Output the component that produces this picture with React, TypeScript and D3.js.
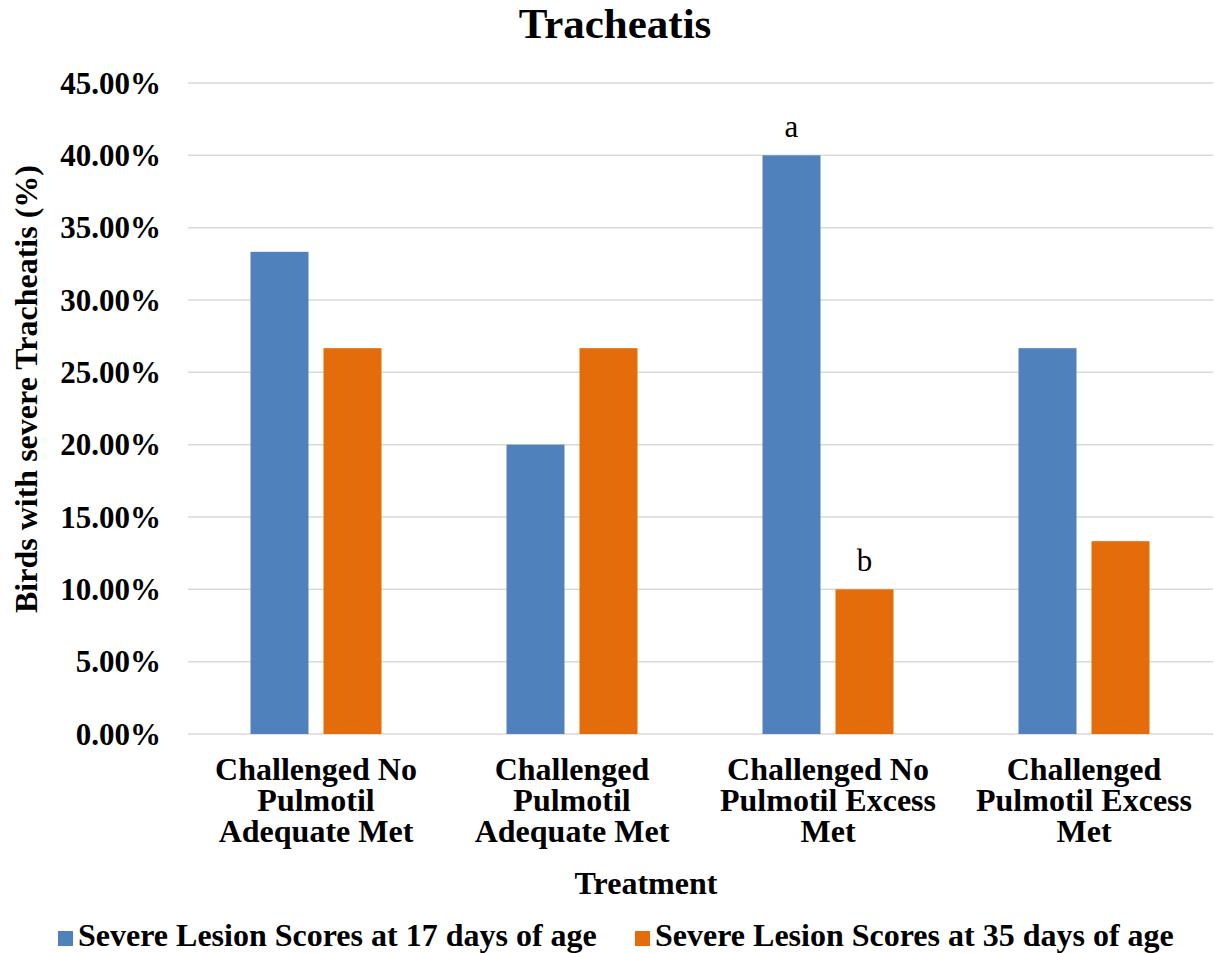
import React from "react";
import * as d3 from "d3";

const categories = [
  ["Challenged No", "Pulmotil", "Adequate Met"],
  ["Challenged", "Pulmotil", "Adequate Met"],
  ["Challenged No", "Pulmotil Excess", "Met"],
  ["Challenged", "Pulmotil Excess", "Met"],
];
const seriesNames = [
  "Severe Lesion Scores at 17 days of age",
  "Severe Lesion Scores at 35 days of age",
];
const day17 = [0.3333, 0.2, 0.4, 0.2667];
const day35 = [0.2667, 0.2667, 0.1, 0.1333];
const seriesColors = ["#4F81BD", "#E46C0A"];
const yTicks = [0, 0.05, 0.1, 0.15, 0.2, 0.25, 0.3, 0.35, 0.4, 0.45];
// significance letters: [category index, series index, letter]
const letters: [number, number, string][] = [
  [2, 0, "a"],
  [2, 1, "b"],
];

const W = 1215;
const H = 953;
const FONT = "'Liberation Serif', 'Times New Roman', serif";

export default function App() {
  const series = [day17, day35];
  const catKeys = categories.map((_, i) => String(i));
  const x0 = d3.scaleBand().domain(catKeys).range([188, 1212]).padding(0);
  const step = x0.bandwidth();
  const x1 = d3
    .scaleBand()
    .domain(["0", "1"])
    .range([62.5, step - 62.5])
    .paddingInner(0.2055);
  const y = d3.scaleLinear().domain([0, 0.45]).range([734, 83]);
  const fmt = (v: number) => (v * 100).toFixed(2) + "%";

  return (
    <svg
      width={W}
      height={H}
      style={{ position: "absolute", left: 0, top: 0, background: "#fff" }}
      fontFamily={FONT}
    >
      <rect width={W} height={H} fill="#fff" />
      <text x={615} y={38} textAnchor="middle" fontSize={43} fontWeight="bold">
        Tracheatis
      </text>

      {yTicks.map((t) => (
        <g key={t}>
          <line
            x1={188}
            x2={1213}
            y1={y(t)}
            y2={y(t)}
            stroke="#D9D9D9"
            strokeWidth={1.5}
          />
          <text
            x={161}
            y={y(t)}
            dy="0.34em"
            textAnchor="end"
            fontSize={31}
            fontWeight="bold"
          >
            {fmt(t)}
          </text>
        </g>
      ))}

      {series.map((vals, s) =>
        vals.map((v, i) => (
          <rect
            key={`${s}-${i}`}
            x={(x0(String(i)) as number) + (x1(String(s)) as number)}
            y={y(v)}
            width={x1.bandwidth()}
            height={y(0) - y(v)}
            fill={seriesColors[s]}
          />
        ))
      )}

      {letters.map(([ci, si, l]) => {
        const vals = series[si];
        return (
          <text
            key={l}
            x={
              (x0(String(ci)) as number) +
              (x1(String(si)) as number) +
              x1.bandwidth() / 2
            }
            y={y(vals[ci]) - 18}
            textAnchor="middle"
            fontSize={31}
          >
            {l}
          </text>
        );
      })}

      {categories.map((lines, i) => (
        <text
          key={i}
          x={(x0(String(i)) as number) + step / 2}
          y={780}
          textAnchor="middle"
          fontSize={32}
          fontWeight="bold"
        >
          {lines.map((ln, k) => (
            <tspan key={k} x={(x0(String(i)) as number) + step / 2} dy={k === 0 ? 0 : 31}>
              {ln}
            </tspan>
          ))}
        </text>
      ))}

      <text
        transform={`translate(37,${389}) rotate(-90)`}
        textAnchor="middle"
        fontSize={32}
        fontWeight="bold"
      >
        Birds with severe Tracheatis (%)
      </text>

      <text x={646} y={894} textAnchor="middle" fontSize={32} fontWeight="bold">
        Treatment
      </text>

      {seriesNames.map((name, s) => {
        const lx = s === 0 ? 58 : 635;
        return (
          <g key={name}>
            <rect x={lx} y={931} width={15} height={15} fill={seriesColors[s]} />
            <text x={lx + 20} y={946} fontSize={32} fontWeight="bold">
              {name}
            </text>
          </g>
        );
      })}
    </svg>
  );
}
